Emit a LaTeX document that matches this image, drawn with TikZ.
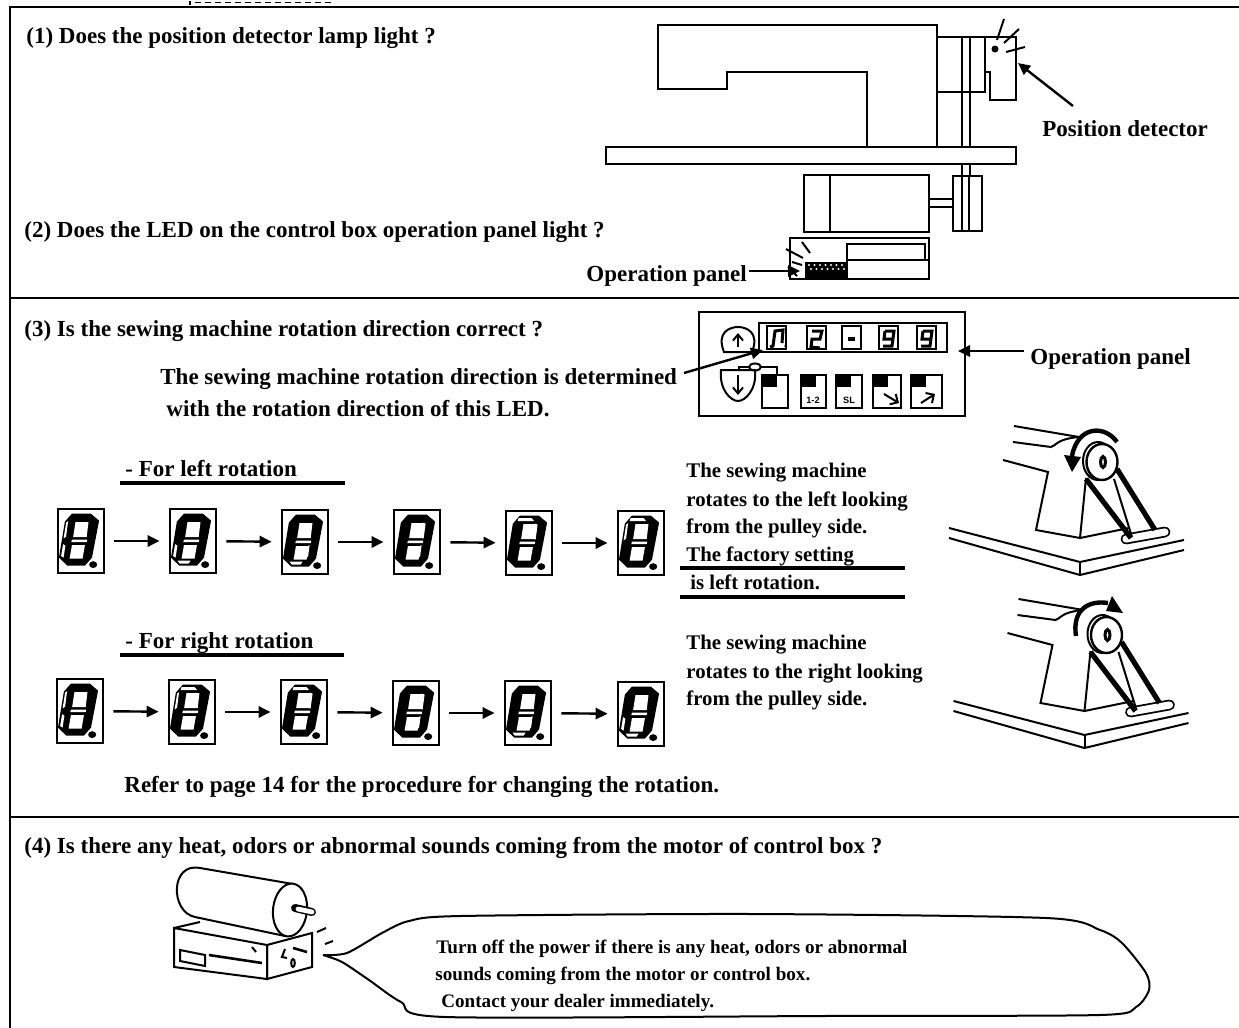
\documentclass[tikz,border=0pt]{standalone}
\usepackage{fontspec}
\setmainfont{Liberation Serif}
\setsansfont{Liberation Sans}
\usetikzlibrary{arrows.meta,calc}

\tikzset{
  label text/.style={anchor=base west,inner sep=0pt,font=\bfseries\fontsize{11.5}{13}\selectfont},
  small text/.style={anchor=base west,inner sep=0pt,font=\bfseries\fontsize{10.4}{12}\selectfont},
  bubble text/.style={anchor=base west,inner sep=0pt,font=\bfseries\fontsize{9.55}{10}\selectfont},
  key text/.style={inner sep=0pt,font=\sffamily\bfseries\fontsize{4.6}{5}\selectfont},
  pointer/.style={-{Triangle[length=6pt,width=5.6pt]},line width=1.2pt},
  digitbox/.style={draw,line width=1.4pt,fill=white,minimum width=23pt,minimum height=32pt,inner sep=0pt},
  ledbox/.style={draw,line width=.9pt,fill=white,inner sep=0pt},
  keybox/.style={draw,line width=.9pt,fill=white},
  wire/.style={line width=1pt},
  rule/.style={line width=1.4pt},
  segul/.pic={\fill[white] (9.5,15) -- (11.5,13.5) -- (9.5,29) -- (7,31) -- cycle;},
  segur/.pic={\fill[white] (30,14) -- (33,15) -- (31,30) -- (28.5,29) -- cycle;},
  segll/.pic={\fill[white] (6.5,36.5) -- (8.8,38) -- (7,50) -- (4.5,48.5) -- cycle;},
  seglr/.pic={\fill[white] (26.5,38) -- (29,36.5) -- (27.5,48) -- (25,50) -- cycle;},
  segtt/.pic={\fill[white] (14,8.5) -- (27,8.5) -- (29.5,11.5) -- (13,11.5) -- cycle;},
  segbb/.pic={\fill[white] (9,53) -- (22,53) -- (20,56) -- (11,56) -- cycle;},
}

% one seven segment display: name, centre x, centre y, dark-free segments
\newcommand{\segdigit}[4]{
  \node[digitbox] (#1) at (#2,#3) {};
  \begin{scope}[shift={(#1.north west)},xscale=1.18]
    \fill (13,6) -- (29,6) -- (36,13) -- (30,50) -- (24,58) -- (9,58) -- (2,50) -- (7,14) -- cycle;
    \fill[white] (16,14.5) -- (27,14.5) -- (25.5,29.5) -- (14,29.5) -- cycle;
    \fill[white] (13,32) -- (26,32) -- (25.5,34.5) -- (12.5,34.5) -- cycle;
    \fill[white] (13,37.5) -- (24,37.5) -- (22,51) -- (11,51) -- cycle;
    \fill (31,57) circle (3.4);
    \foreach \s in {#4} {\pic {seg\s};}
  \end{scope}
}

% the pulley end of the machine, without its rotation arrow
\newcommand{\pulleyhead}{
  \draw[wire] (1014,426) -- (1079,437);
  \draw[wire] (1013,442) -- (1051,447) .. controls (1056,446) and (1056,439) .. (1079,437);
  \draw[wire] (1003,460) -- (1048,472) -- (1036,530) -- (1080,538) -- (1086,478);
  \draw[wire] (1080,538) -- (1129,528);
  \draw[wire] (949,528) -- (1080,562) -- (1184,540);
  \draw[wire] (949,538) -- (1080,575) -- (1184,550);
  \draw[wire] (1080,562) -- (1080,575);
  \draw[line width=5.4pt,line cap=round,black] (1126,539) -- (1165,532);
  \draw[line width=3.6pt,line cap=round,white] (1126,539) -- (1165,532);
  \draw[line width=2.6pt] (1086,479) -- (1131,538);
  \draw[line width=2.6pt] (1117,469) -- (1155,530);
  \draw[wire] (1114,479) -- (1132,537);
  \draw[wire,fill=white] (1098,461) ellipse (15 and 19);
  \draw[line width=1.2pt,fill=white] (1102,462) ellipse (15.5 and 18);
  \draw[line width=1.5pt] (1103,462) ellipse (2.5 and 5.5);
}

\begin{document}
\begin{tikzpicture}[x=.5pt,y=-.5pt]
\useasboundingbox (0,0) rectangle (1239,1028);

% ---------- frame ----------
\draw[rule] (1239,7) -- (10,7) -- (10,1028);
\draw[rule] (10,298) -- (1239,298);
\draw[rule] (10,817) -- (1239,817);
\draw[line width=1.4pt] (190,1) -- (190,5);
\draw[line width=.5pt,dash pattern=on 3pt off 2pt] (195,2) -- (332,2);

% ---------- section 1 and 2 ----------
\node[label text] (qone) at (26,43) {(1) Does the position detector lamp light ?};
\node[label text] (qtwo) at (24,237) {(2) Does the LED on the control box operation panel light ?};
\node[label text] (detlabel) at (1042,136) {Position detector};
\node[label text] (oplabel) at (586,281) {Operation panel};

% sewing machine
\draw[wire] (658,25) -- (937,25) -- (937,147) -- (867,147) -- (867,72) -- (727,72) -- (727,89) -- (658,89) -- cycle;
\draw[wire] (606,147) rectangle (1016,164);
\draw[wire] (937,37) -- (985,37) -- (985,92) -- (937,92);
\draw[wire] (962,37) -- (962,147) (970,37) -- (970,147);
\draw[wire] (962,164) -- (962,176) (970,164) -- (970,176);
\draw[wire] (985,37) -- (1016,37) -- (1016,100) -- (990,100) -- (990,72) -- (985,72);
\fill (995,49) circle (3.5);
\draw[wire] (997,40) -- (1004,19) (1004,43) -- (1019,29) (1006,52) -- (1025,47);
\coordinate (dettip) at (1018,63);
\coordinate (detstart) at (1073,106);
\draw[pointer] (detstart) -- (dettip);

% motor and control box
\draw[wire] (804,175) rectangle (929,232);
\draw[wire] (830,175) -- (830,232);
\draw[wire] (929,199) -- (953,199) (929,207) -- (953,207);
\draw[wire] (953,176) rectangle (982,231);
\draw[wire] (962,176) -- (962,231) (969,176) -- (969,231);
\draw[wire] (790,238) rectangle (929,279);
\draw[wire] (847,244) rectangle (925,260);
\draw[wire] (847,260) -- (847,279) (847,260) -- (929,260);
\fill (805,262) rectangle (847,279);
\foreach \i in {0,...,6} {
  \fill[white] (809+5.5*\i,265) circle (1.2);
  \fill[white] (811+5.5*\i,269) circle (1.2);
}
\draw[wire] (802,242) -- (810,253) (786,249) -- (803,258) (792,262) -- (802,265) (788,267) -- (797,276);
\coordinate (boxtip) at (800,271);
\coordinate (opstart) at (749,271);
\draw[pointer] (opstart) -- (boxtip);

% ---------- section 3 ----------
\node[label text] (qthree) at (24,336) {(3) Is the sewing machine rotation direction correct ?};
\node[label text] (dirone) at (160,384) {The sewing machine rotation direction is determined};
\node[label text] (dirtwo) at (166,416) {with the rotation direction of this LED.};
\node[label text] (opright) at (1030,364) {Operation panel};

% operation panel
\draw[wire] (699,312) rectangle (965,416);
\draw[wire] (759,323) rectangle (947,352);
\foreach \x in {767,807,842,879,917} {
  \draw[ledbox] (\x,326) rectangle (\x+19,349);
}
\draw[line width=1.5pt] (770,347) -- (773,346) -- (775,331) -- (783,330) -- (782,343);
\fill (785,346) circle (1);
\draw[line width=1.5pt] (812,331) -- (822,331) -- (820,339) -- (812,339) -- (811,347) -- (820,348);
\draw[line width=1.6pt] (848,339) -- (855,339);
\foreach \x in {879,917} {
  \draw[line width=1.5pt] (\x+6,331) -- (\x+15,331) -- (\x+13,346) -- (\x+4,346);
  \draw[line width=1.5pt] (\x+6,331) -- (\x+5,339) -- (\x+14,339);
}
\draw[wire] (724,352) .. controls (716,332) and (730,327) .. (738,327) .. controls (746,327) and (760,332) .. (752,352) -- cycle;
\draw[wire] (721,370) -- (755,370) .. controls (757,390) and (745,401) .. (738,401) .. controls (731,401) and (719,390) .. (721,370) -- cycle;
\draw[wire,-{Straight Barb[length=3pt,width=5pt]}] (738,347) -- (738,333);
\draw[wire,-{Straight Barb[length=3pt,width=5pt]}] (738,375) -- (738,395);
\draw[wire] (739,370) -- (739,367) -- (749,367) (761,367) -- (777,367) -- (777,375);
\draw[wire] (755,367) ellipse (6 and 3.5);
\foreach \xa/\xb in {762/788,801/826,836/862,873/901,911/942} {
  \draw[keybox] (\xa,375) rectangle (\xb,408);
  \fill (\xa,375) rectangle (\xa+15,387);
}
\node[key text] (keyone) at (813,400) {1-2};
\node[key text] (keytwo) at (849,400) {SL};
\draw[wire,-{Straight Barb[length=3pt,width=6pt]}] (884,394) -- (899,403);
\draw[wire,-{Straight Barb[length=3pt,width=6pt]}] (921,403) -- (935,394);
\coordinate (ledtip) at (763,350);
\coordinate (ledstart) at (684,373);
\draw[pointer] (ledstart) -- (ledtip);
\coordinate (paneltip) at (958,351);
\coordinate (panelstart) at (1024,351);
\draw[pointer] (panelstart) -- (paneltip);

% left rotation
\node[label text] (lefthead) at (125,476) {- For left rotation};
\draw[rule,line width=1.8pt] (120,483) -- (345,483);
\node[small text] (leftone) at (686,477) {The sewing machine};
\node[small text] (lefttwo) at (686,506) {rotates to the left looking};
\node[small text] (leftthree) at (686,533) {from the pulley side.};
\node[small text] (leftfour) at (686,561) {The factory setting};
\node[small text] (leftfive) at (690,589) {is left rotation.};
\draw[rule,line width=1.8pt] (680,568) -- (905,568);
\draw[rule,line width=1.8pt] (680,597) -- (905,597);

\segdigit{Lone}{81}{541}{ul,ll}
\segdigit{Ltwo}{193}{541}{ll,bb}
\segdigit{Lthree}{305}{542}{bb,lr}
\segdigit{Lfour}{417}{542}{lr,ur}
\segdigit{Lfive}{529}{543}{ur,tt}
\segdigit{Lsix}{641}{543}{tt,ul}
\foreach \a/\b in {Lone/Ltwo,Ltwo/Lthree,Lthree/Lfour,Lfour/Lfive,Lfive/Lsix} {
  \draw[pointer,shorten <=4.5pt,shorten >=4.5pt] (\a) -- (\b);
}

% right rotation
\node[label text] (righthead) at (125,648) {- For right rotation};
\draw[rule,line width=1.8pt] (120,655) -- (344,655);
\node[small text] (rightone) at (686,649) {The sewing machine};
\node[small text] (righttwo) at (686,678) {rotates to the right looking};
\node[small text] (rightthree) at (686,705) {from the pulley side.};

\segdigit{Rone}{80}{711}{ul,ll}
\segdigit{Rtwo}{192}{712}{tt,ul}
\segdigit{Rthree}{304}{712}{tt,ur}
\segdigit{Rfour}{416}{713}{ur,lr}
\segdigit{Rfive}{528}{713}{lr,bb}
\segdigit{Rsix}{641}{714}{bb,ll}
\foreach \a/\b in {Rone/Rtwo,Rtwo/Rthree,Rthree/Rfour,Rfour/Rfive,Rfive/Rsix} {
  \draw[pointer,shorten <=4.5pt,shorten >=4.5pt] (\a) -- (\b);
}

\node[label text] (refer) at (124,792) {Refer to page 14 for the procedure for changing the rotation.};

% pulleys
\pulleyhead
\draw[line width=2.2pt] (1117,442) .. controls (1105,425) and (1078,425) .. (1072,456);
\fill (1072,472) -- (1064,455) -- (1081,457) -- cycle;
\begin{scope}[shift={(4.5,173)}]
  \pulleyhead
\end{scope}
\draw[line width=2.2pt] (1076,636) .. controls (1072,610) and (1088,600) .. (1108,603);
\fill (1112,596) -- (1106,611) -- (1123,613) -- cycle;

% ---------- section 4 ----------
\node[label text] (qfour) at (24,853) {(4) Is there any heat, odors or abnormal sounds coming from the motor of control box ?};

% motor on control box
\draw[wire] (174,928) -- (200,922) (267,945) -- (312,933) -- (312,967) -- (267,979) -- cycle;
\draw[wire] (174,928) -- (267,945) -- (267,979) -- (174,967) -- cycle;
\draw[wire,fill=white] (293,884) -- (200,868) .. controls (170,862) and (170,912) .. (195,917) -- (285,936) -- cycle;
\draw[wire,fill=white,rotate around={-6:(290,910)}] (290,910) ellipse (17 and 26.5);
\draw[line width=4pt,line cap=round] (295,908) -- (312,912);
\draw[line width=2.4pt,line cap=round,white] (298,909) -- (312,912);
\draw[wire] (180,950) -- (205,955) -- (205,966) -- (180,961) -- cycle;
\draw[line width=1.3pt] (209,955) -- (262,963);
\draw[wire] (252,947) -- (256,952);
\draw[wire] (285,949) -- (282,957) -- (287,958);
\draw[line width=1.3pt] (293,948) -- (307,952);
\draw[wire] (293,963) ellipse (1.8 and 4);
\draw[wire] (317,932) -- (326,928) (325,944) -- (333,941);

% speech bubble
\draw[wire] plot[smooth,tension=.45] coordinates {(323,955) (347,953) (382,933) (409,921) (461,916) (750,914) (1046,918) (1100,930) (1122,943) (1146,973) (1149,990) (1136,1007) (1100,1015) (824,1016) (445,1017) (401,1002) (369,980) (342,962) (323,955)};
\node[bubble text] (warnone) at (436,953) {Turn off the power if there is any heat, odors or abnormal};
\node[bubble text] (warntwo) at (435,980) {sounds coming from the motor or control box.};
\node[bubble text] (warnthree) at (441,1007) {Contact your dealer immediately.};

\end{tikzpicture}
\end{document}
